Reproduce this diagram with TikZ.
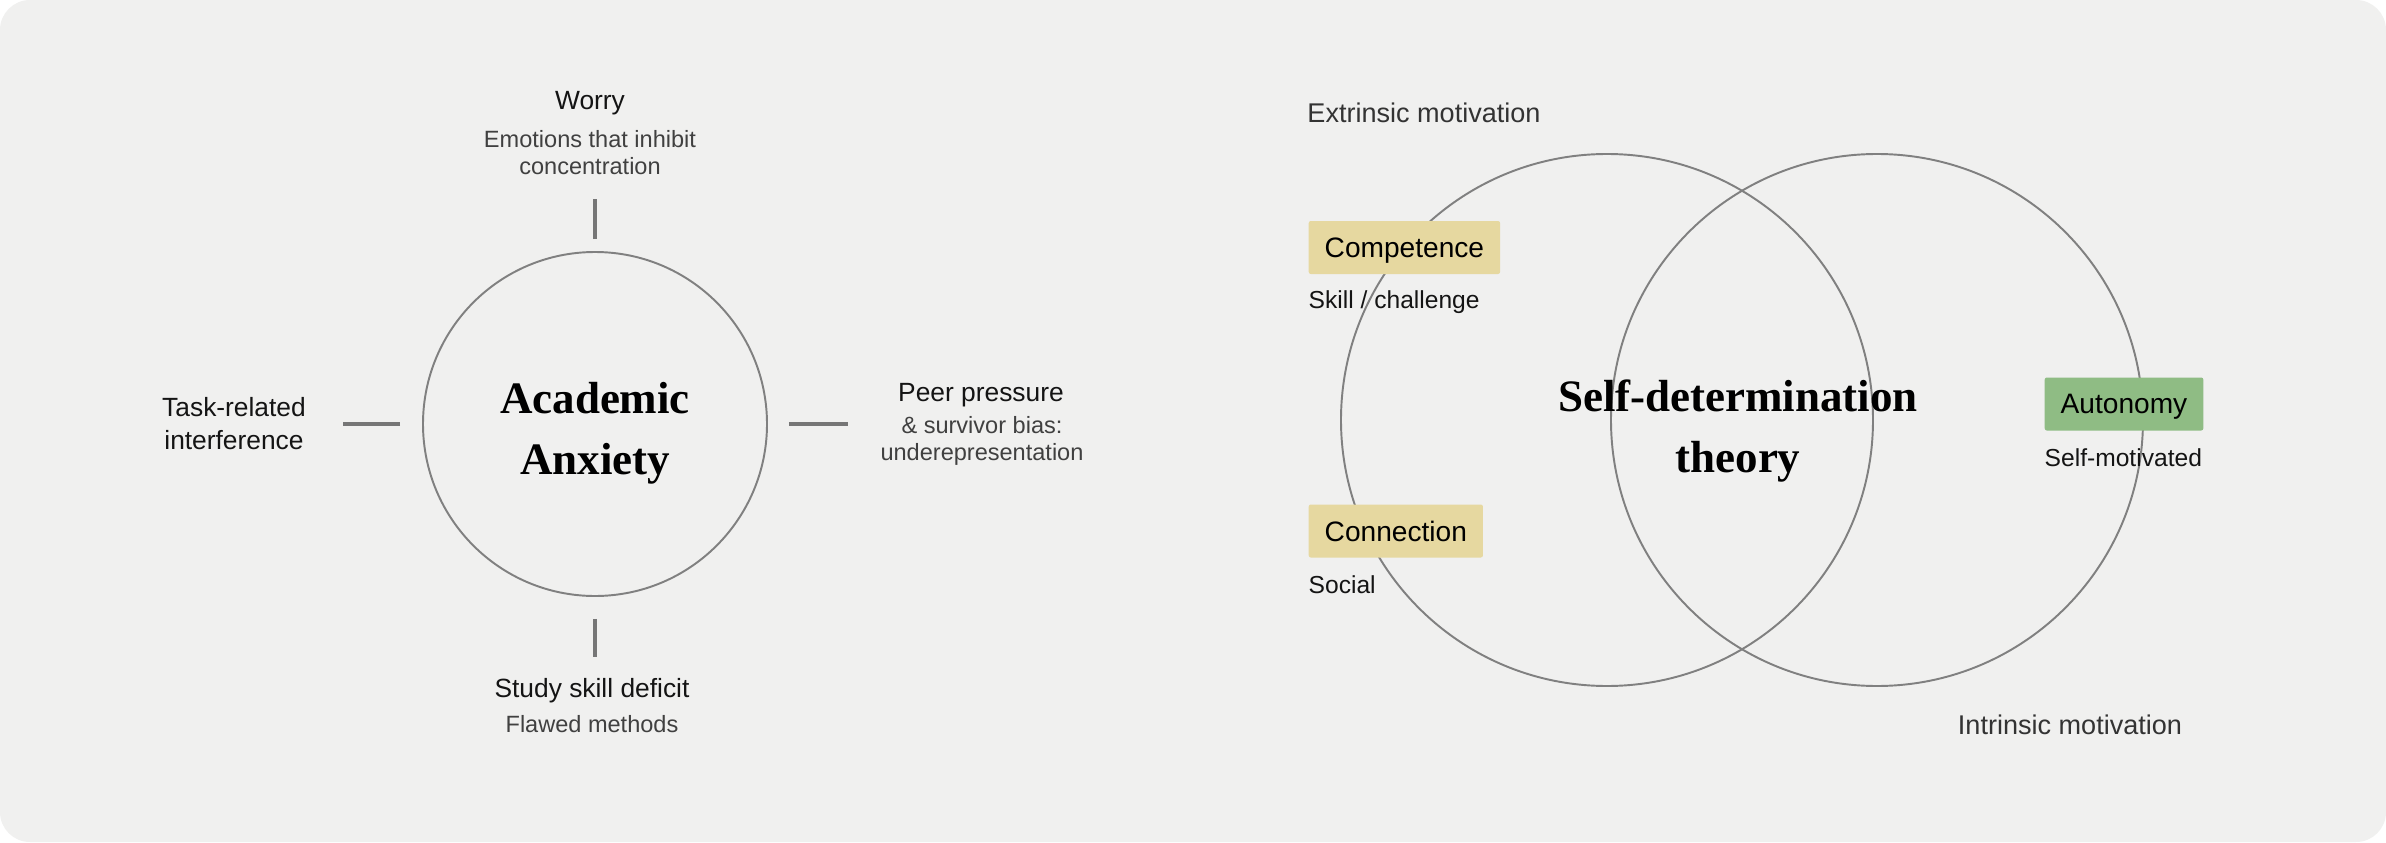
\documentclass[tikz,border=0pt]{standalone}
\usepackage{fontspec}
\setmainfont{Liberation Sans}
\newfontfamily\titlefont{Liberation Serif}

\definecolor{paper}{HTML}{F0F0EF}
\definecolor{ink}{HTML}{141414}
\definecolor{subgray}{HTML}{404040}
\definecolor{ringgray}{HTML}{808080}
\definecolor{tickgray}{HTML}{767676}
\definecolor{sand}{HTML}{E6D8A0}
\definecolor{leaf}{HTML}{8FBC84}

\tikzset{
	ring/.style={draw=ringgray, line width=0.55pt, circle, inner sep=0pt},
	tickline/.style={draw=tickgray, line width=1.15pt},
	lbl/.style={font=\fontsize{7.5}{9.4}\selectfont, text=ink, align=center, inner sep=0pt},
	sublbl/.style={font=\fontsize{6.7}{7.7}\selectfont, text=subgray, align=center, inner sep=0pt},
	bigtitle/.style={font=\titlefont\bfseries\fontsize{12.8}{17.4}\selectfont, text=black, align=center, inner sep=0pt},
	needbox/.style={fill=#1, rounded corners=0.6pt, minimum height=0.53cm, text depth=0pt, inner xsep=0.16cm, inner ysep=0pt, font=\fontsize{8}{9.6}\selectfont, text=black, anchor=west},
	note/.style={font=\fontsize{7}{8.4}\selectfont, text=ink, inner sep=0pt, anchor=west}
}

\begin{document}
\begin{tikzpicture}
		\fill[white] (0,0) rectangle (23.86,8.42);
		\fill[paper, rounded corners=0.3cm] (0,0) rectangle (23.86,8.42);

		\node[ring, minimum size=3.44cm] (anx) at (5.95,4.18) {};
		\node[bigtitle] (anxtext) at (5.95,4.09) {Academic\\Anxiety};

		\node[lbl] (worry) at (5.90,7.39) {Worry};
		\node[sublbl] (worrysub) at (5.90,6.89) {Emotions that inhibit\\concentration};

		\node[lbl] (task) at (2.34,4.18) {Task-related\\interference};

		\node[lbl] (peer) at (9.81,4.47) {Peer pressure};
		\node[sublbl] (peersub) at (9.82,4.01) {\&\ survivor bias:\\underepresentation};

		\node[lbl] (study) at (5.92,1.51) {Study skill deficit};
		\node[sublbl] (studysub) at (5.92,1.18) {Flawed methods};

		\draw[tickline] ([yshift=0.12cm]anx.north) -- ([yshift=0.52cm]anx.north);
		\draw[tickline] ([yshift=-0.22cm]anx.south) -- ([yshift=-0.60cm]anx.south);
		\draw[tickline] ([xshift=-0.22cm]anx.west) -- ([xshift=-0.79cm]anx.west);
		\draw[tickline] ([xshift=0.21cm]anx.east) -- ([xshift=0.80cm]anx.east);

		\node[ring, minimum size=5.32cm] (extcirc) at (16.07,4.22) {};
		\node[ring, minimum size=5.32cm] (intcirc) at (18.77,4.22) {};

		\node[lbl, font=\fontsize{7.7}{9.4}\selectfont, text=subgray!80!black] (extr) at (14.24,7.29) {Extrinsic motivation};
		\node[lbl, font=\fontsize{7.7}{9.4}\selectfont, text=subgray!80!black] (intr) at (20.70,1.17) {Intrinsic motivation};

		\node[bigtitle] (sdt) at (17.38,4.11) {Self-determination\\theory};

		\node[needbox=sand] (comp) at (13.08,5.945) {Competence};
		\node[note] (skill) at (13.08,5.40) {Skill / challenge};

		\node[needbox=sand] (conn) at (13.08,3.11) {Connection};
		\node[note] (social) at (13.08,2.57) {Social};

		\node[needbox=leaf] (auto) at (20.44,4.38) {Autonomy};
		\node[note] (selfmot) at (20.44,3.84) {Self-motivated};
	\end{tikzpicture}
\end{document}
